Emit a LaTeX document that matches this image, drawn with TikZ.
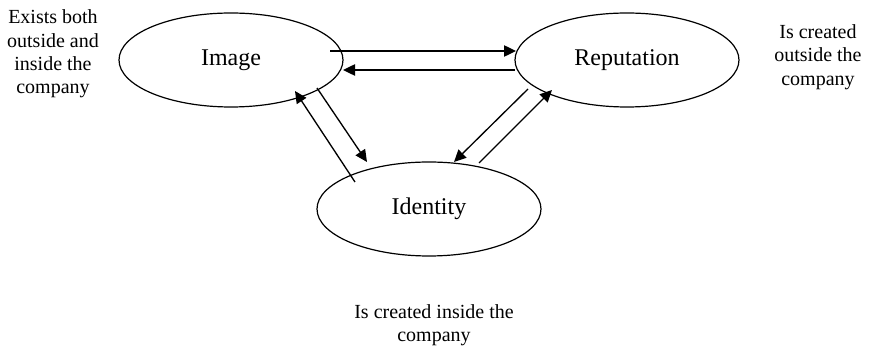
\documentclass[tikz,border=0pt]{standalone}
\usepackage{fontspec}
\setmainfont{Liberation Serif}
\usepackage{tikz}
\usetikzlibrary{arrows.meta,shapes}
\usetikzlibrary{positioning}
\tikzset{
    entity/.style={draw=black, ellipse, line width=0.9pt, inner sep=0pt,
        minimum width=168pt, minimum height=70.5pt,
        font=\fontsize{18}{21}\selectfont},
    note/.style={align=center, font=\fontsize{15}{17.5}\selectfont},
    link/.style={draw=black, line width=1pt,
        -{Triangle[length=9pt,width=8.5pt]}},
}
\begin{document}
\begin{tikzpicture}[x=0.75pt,y=-0.75pt]
	\useasboundingbox (0,0) rectangle (869,349);
%
	\node[entity] (img) at (231,60) {Image};
	\node[entity] (rep) at (627,60) {Reputation};
	\node[entity] (ident) at (429,209) {Identity};
%
	\node[note] (imgnote) at (53,54) {Exists both\\outside and\\inside the\\company};
	\node[note] (repnote) at (818,57) {Is created\\outside the\\company};
	\node[note] (identnote) at (434,325) {Is created inside the\\company};
%
	\draw[link] ([shift={(99,-9)}]img.center) -- ([shift={(-111,-9)}]rep.center);
	\draw[link] ([shift={(-112,10)}]rep.center) -- ([shift={(112,10)}]img.center);
	\draw[link] ([shift={(86,28)}]img.center) -- ([shift={(-62,-47)}]ident.center);
	\draw[link] ([shift={(-74,-27)}]ident.center) -- ([shift={(64,31)}]img.center);
	\draw[link] ([shift={(-99,29)}]rep.center) -- ([shift={(25,-47)}]ident.center);
	\draw[link] ([shift={(50,-46)}]ident.center) -- ([shift={(-75,30)}]rep.center);
\end{tikzpicture}
\end{document}
